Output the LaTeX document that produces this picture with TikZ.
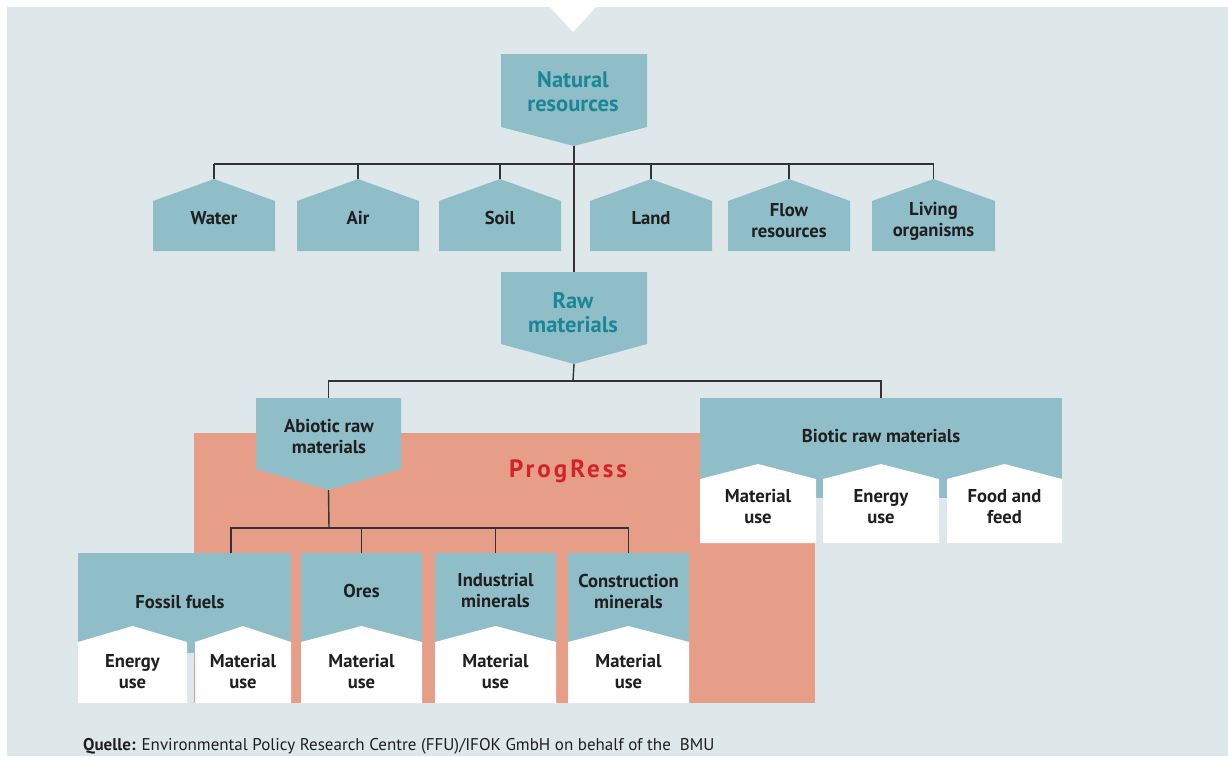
\documentclass[tikz,border=0pt]{standalone}
\usepackage{fontspec}
\setmainfont{PT Sans}
\newfontfamily\spacedfont[LetterSpace=12]{PT Sans}

\definecolor{paneBlue}{HTML}{DEE8EA}
\definecolor{boxBlue}{HTML}{8FBDC8}
\definecolor{progSalmon}{HTML}{E79E89}
\definecolor{tealText}{HTML}{1B8795}
\definecolor{progRed}{HTML}{D2232A}

\tikzset{
  lbl/.style={font=\fontsize{18.6}{21}\selectfont\bfseries, align=center, text=black!88, inner sep=0pt},
  toplbl/.style={font=\fontsize{22.5}{24}\selectfont\bfseries, align=center, text=tealText, inner sep=0pt},
  link/.style={draw=black!80, line width=1.4pt},
}

% house shape: name, left, right, apex, shoulder, bottom, colour
\newcommand{\HouseBox}[7]{%
  \fill[#7] (#2,#6) -- (#2,#5) -- ({(#2+#3)/2},#4) -- (#3,#5) -- (#3,#6) -- cycle;
  \coordinate (#1-apex) at ({(#2+#3)/2},#4);}
% arrow shape: name, left, right, top, shoulder, tip
\newcommand{\ArrowBox}[6]{%
  \fill[boxBlue] (#2,#4) -- (#3,#4) -- (#3,#5) -- ({(#2+#3)/2},#6) -- (#2,#5) -- cycle;
  \coordinate (#1-top) at ({(#2+#3)/2},#4);
  \coordinate (#1-tip) at ({(#2+#3)/2},#6);}

\begin{document}
\begin{tikzpicture}[x=1pt, y=-1pt]
    \useasboundingbox (0,0) rectangle (1228,756);
    \fill[paneBlue] (7,7) rectangle (1228,756);
    \fill[white] (550,7) -- (596,7) -- (573,32) -- cycle;
    \fill[progSalmon] (194,433) rectangle (815,703);

    % natural resources
    \ArrowBox{nat}{501}{647}{54}{127}{146}
    \HouseBox{water}{153}{275}{179}{201}{251}{boxBlue}
    \HouseBox{air}{297}{419}{179}{201}{251}{boxBlue}
    \HouseBox{soil}{439}{561}{179}{201}{251}{boxBlue}
    \HouseBox{land}{590}{712}{179}{201}{251}{boxBlue}
    \HouseBox{flow}{728}{850}{179}{201}{251}{boxBlue}
    \HouseBox{living}{872}{995}{179}{201}{251}{boxBlue}

    % raw materials
    \ArrowBox{raw}{501}{647}{272}{344}{364}
    \ArrowBox{abio}{256}{401}{398}{469}{490}
    \fill[boxBlue] (700,398) rectangle (1062,498);
    \coordinate (bio-top) at (881,398);
    \HouseBox{bmat}{700}{816}{464}{479}{543}{white}
    \HouseBox{beng}{823}{939}{464}{479}{543}{white}
    \HouseBox{bfood}{947}{1062}{464}{479}{543}{white}

    % abiotic groups
    \fill[boxBlue] (78,553) rectangle (291,653);
    \fill[boxBlue] (301,553) rectangle (422,653);
    \fill[boxBlue] (435,553) rectangle (556,653);
    \fill[boxBlue] (568,553) rectangle (689,653);
    \coordinate (fossil-top) at (231,553);
    \coordinate (ores-top) at (361.5,553);
    \coordinate (ind-top) at (495.5,553);
    \coordinate (cons-top) at (628.5,553);
    \HouseBox{fen}{78}{187}{626}{642}{703}{white}
    \HouseBox{fmat}{195}{291}{626}{642}{703}{white}
    \HouseBox{omat}{301}{422}{626}{642}{703}{white}
    \HouseBox{imat}{435}{556}{626}{642}{703}{white}
    \HouseBox{cmat}{568}{689}{626}{642}{703}{white}

    % connectors
    \coordinate (natbus) at (573,164);
    \coordinate (rawbus) at (573,381);
    \coordinate (abiobus) at (329,528);
    \draw[link] (nat-tip) -- (raw-top);
    \draw[link] (water-apex |- natbus) -- (living-apex |- natbus);
    \foreach \n in {water,air,soil,land,flow,living}
      \draw[link] (\n-apex) -- (\n-apex |- natbus);
    \draw[link] (raw-tip) -- (rawbus);
    \draw[link] (abio-top) |- (rawbus) -| (bio-top);
    \draw[link] (abio-tip) -- (abiobus);
    \draw[link] (fossil-top) |- (abiobus) -| (cons-top);
    \foreach \n in {ores,ind}
      \draw[link] (\n-top) -- (\n-top |- abiobus);

    % labels
    \node[toplbl] (natural) at (573,92) {Natural\\resources};
    \node[lbl] (water) at (214,218) {Water};
    \node[lbl] (air) at (358,218) {Air};
    \node[lbl] (soil) at (500,218) {Soil};
    \node[lbl] (land) at (651,218) {Land};
    \node[lbl] (flow) at (789,221) {Flow\\resources};
    \node[lbl] (living) at (933.5,221) {Living\\organisms};
    \node[toplbl] (rawmat) at (573,313) {Raw\\materials};
    \node[lbl] (abiotic) at (329,437) {Abiotic raw\\materials};
    \node[lbl] (biotic) at (881,436) {Biotic raw materials};
    \node[font=\fontsize{25}{28}\selectfont\spacedfont\bfseries, text=progRed, inner sep=0pt] (progress) at (568,471) {ProgRess};
    \node[lbl] (bio-material) at (758,507) {Material\\use};
    \node[lbl] (bio-energy) at (881,507) {Energy\\use};
    \node[lbl] (bio-food) at (1004.5,507) {Food and\\feed};
    \node[lbl] (fossil) at (180,602) {Fossil fuels};
    \node[lbl] (ores) at (361.5,591) {Ores};
    \node[lbl] (industrial) at (495.5,591) {Industrial\\minerals};
    \node[lbl] (construction) at (628.5,591) {Construction\\minerals};
    \node[lbl] (fossil-energy) at (132.5,672) {Energy\\use};
    \node[lbl] (fossil-material) at (243,672) {Material\\use};
    \node[lbl] (ores-material) at (361.5,672) {Material\\use};
    \node[lbl] (ind-material) at (495.5,672) {Material\\use};
    \node[lbl] (cons-material) at (628.5,672) {Material\\use};
    \node[anchor=base west, inner sep=0pt, font=\fontsize{17}{19}\selectfont, text=black!88] (source) at (83,750)
      {\textbf{Quelle:} Environmental Policy Research Centre (FFU)/IFOK GmbH on behalf of the\ \ BMU};
\end{tikzpicture}
\end{document}
